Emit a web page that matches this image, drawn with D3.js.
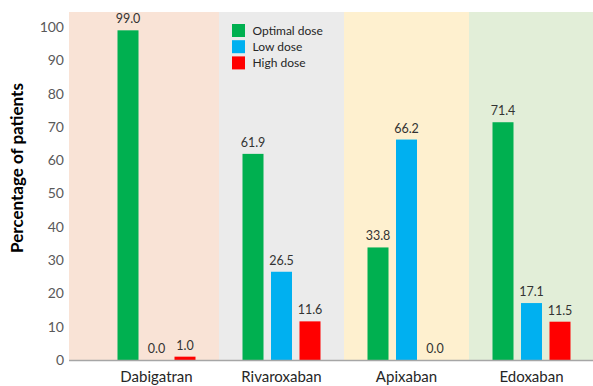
<!DOCTYPE html>
<html>
<head>
<meta charset="utf-8">
<script src="https://cdn.jsdelivr.net/npm/d3@7"></script>
<style>
  html, body { margin: 0; padding: 0; background: #fff; }
  svg { display: block; font-family: Lato, "Open Sans", sans-serif; }
</style>
</head>
<body>
<svg id="chart" width="593" height="386"></svg>
<script>
// Anticoagulant dosing by drug
const drugs = ["Dabigatran", "Rivaroxaban", "Apixaban", "Edoxaban"];
const series = ["Optimal dose", "Low dose", "High dose"];
const optimalDose = [99.0, 61.9, 33.8, 71.4];
const lowDose = [0.0, 26.5, 66.2, 17.1];
const highDose = [1.0, 11.6, 0.0, 11.5];
const yTicks = [0, 10, 20, 30, 40, 50, 60, 70, 80, 90, 100];
const seriesColors = ["#00b050", "#00b0f0", "#ff0000"];
const panelColors = ["#f9e3d6", "#ebebeb", "#fef0cf", "#e2eed8"];

const valuesBySeries = [optimalDose, lowDose, highDose];
const rows = drugs.map((d, i) => ({
  drug: d,
  values: series.map((s, j) => ({ series: s, value: valuesBySeries[j][i], color: seriesColors[j] }))
}));

const svg = d3.select("#chart");
const W = 593, H = 386;
const plotLeft = 69, plotBottom = 360;

const x = d3.scaleBand().domain(drugs).range([94, 594]).paddingInner(0).paddingOuter(0);
const xs = d3.scaleBand().domain(series).range([-39, 39]).paddingInner(0.263).paddingOuter(0);
const y = d3.scaleLinear().domain([0, 100]).range([plotBottom, 27]);
const yTop = y(104.5);

// background panels per drug; first one reaches to the value axis
svg.append("g").selectAll("rect").data(drugs).join("rect")
  .attr("x", (d, i) => i === 0 ? plotLeft : x(d))
  .attr("y", yTop)
  .attr("width", (d, i) => i === 0 ? x(d) + x.bandwidth() - plotLeft : Math.min(x.bandwidth(), W - x(d)))
  .attr("height", plotBottom - yTop)
  .attr("fill", (d, i) => panelColors[i]);

// y axis (labels only)
const yAxis = svg.append("g")
  .attr("transform", `translate(${plotLeft},0)`)
  .call(d3.axisLeft(y).tickValues(yTicks).tickSize(0).tickPadding(5));
yAxis.select(".domain").remove();
yAxis.selectAll("text")
  .attr("fill", "#595959")
  .style("font-size", "14px")
  .style("font-family", "Lato, sans-serif");

// y title
svg.append("text")
  .attr("transform", `translate(23,${168}) rotate(-90)`)
  .attr("text-anchor", "middle")
  .attr("fill", "#000")
  .style("font-size", "17px")
  .style("font-weight", "bold")
  .text("Percentage of patients");

// bars
const groups = svg.append("g").selectAll("g").data(rows).join("g")
  .attr("transform", d => `translate(${x(d.drug) + x.bandwidth() / 2},0)`);

groups.selectAll("rect").data(d => d.values).join("rect")
  .attr("x", d => xs(d.series))
  .attr("width", xs.bandwidth())
  .attr("y", d => y(d.value))
  .attr("height", d => plotBottom - y(d.value))
  .attr("fill", d => d.color);

groups.selectAll("text").data(d => d.values).join("text")
  .attr("x", d => xs(d.series) + xs.bandwidth() / 2)
  .attr("y", d => y(d.value) - 7)
  .attr("text-anchor", "middle")
  .attr("fill", "#333")
  .style("font-size", "12.5px")
  .text(d => d.value.toFixed(1));

// x axis
const xAxis = svg.append("g")
  .attr("transform", `translate(0,${plotBottom})`)
  .call(d3.axisBottom(x).tickSize(0).tickPadding(11));
xAxis.select(".domain").remove();
xAxis.selectAll("text")
  .attr("fill", "#262626")
  .style("font-size", "15px")
  .style("font-family", "Lato, sans-serif");
svg.append("line")
  .attr("x1", plotLeft).attr("x2", W)
  .attr("y1", plotBottom + 0.5).attr("y2", plotBottom + 0.5)
  .attr("stroke", "#a6a6a6").attr("stroke-width", 1.5);

// legend
const legend = svg.append("g").attr("transform", "translate(232,24)");
const items = legend.selectAll("g").data(series).join("g")
  .attr("transform", (d, i) => `translate(0,${i * 16.2})`);
items.append("rect").attr("width", 13).attr("height", 13).attr("fill", (d, i) => seriesColors[i]);
items.append("text").attr("x", 20.5).attr("y", 11)
  .attr("fill", "#262626").style("font-size", "12px").text(d => d);
</script>
</body>
</html>
